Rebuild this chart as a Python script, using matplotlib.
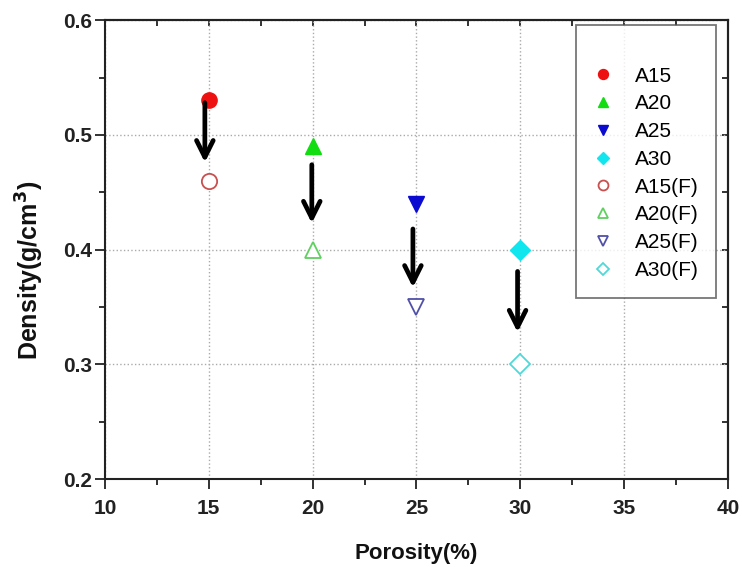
import matplotlib
matplotlib.use("Agg")
import matplotlib.pyplot as plt
from matplotlib.ticker import MultipleLocator, NullLocator

plt.rcParams['font.family'] = ['Liberation Sans', 'DejaVu Sans']

labels = ['A15', 'A20', 'A25', 'A30']
porosity = [15, 20, 25, 30]
density = [0.53, 0.49, 0.44, 0.40]
density_f = [0.46, 0.40, 0.35, 0.30]
markers = ['o', '^', 'v', 'D']
colors = ['#ee1111', '#11dd11', '#0a0ad0', '#11e5ee']
colors_f = ['#c85050', '#60d060', '#5050a8', '#50d8d8']
arrow_x = [14.81, 19.96, 24.83, 29.87]
arrow_top = [0.528, 0.474, 0.418, 0.381]
arrow_tip = [0.476, 0.423, 0.367, 0.328]

fig = plt.figure(figsize=(7.42, 5.67), dpi=100)
ax = fig.add_axes([0.1415, 0.155, 0.8395, 0.8095])

sizes = [11, 12, 12, 10]
for i in range(4):
    ax.plot(porosity[i], density[i], linestyle='none', marker=markers[i],
            color=colors[i], markersize=sizes[i], label=labels[i], zorder=3)
for i in range(4):
    ax.plot(porosity[i], density_f[i], linestyle='none', marker=markers[i],
            markerfacecolor='white', markeredgecolor=colors_f[i], markeredgewidth=1.3,
            markersize=sizes[i], label=labels[i] + '(F)', zorder=3)

for x, y0, y1 in zip(arrow_x, arrow_top, arrow_tip):
    ax.annotate('', xy=(x, y1), xytext=(x, y0),
                arrowprops=dict(arrowstyle='->', lw=3.4, color='black',
                                mutation_scale=30, shrinkA=0, shrinkB=0), zorder=4)

ax.set_xlim(10, 40)
ax.set_ylim(0.2, 0.6)
ax.xaxis.set_major_locator(MultipleLocator(5))
ax.xaxis.set_minor_locator(MultipleLocator(2.5))
ax.yaxis.set_major_locator(MultipleLocator(0.1))
ax.yaxis.set_minor_locator(MultipleLocator(0.05))
ax.grid(True, which='major', linestyle=':', color='#aaaaaa', linewidth=1.0)
ax.set_axisbelow(True)

ax.tick_params(which='both', direction='out', width=1.3, labelsize=15, colors='#222222')
ax.tick_params(which='major', length=7)
ax.tick_params(which='minor', length=4)
ax.tick_params(axis='x', which='major', pad=7)
ax.tick_params(axis='y', which='major', pad=2)
for lab in ax.get_xticklabels() + ax.get_yticklabels():
    lab.set_fontweight('bold')
    lab.set_color('#222222')
for s in ax.spines.values():
    s.set_linewidth(1.5)
    s.set_color('#222222')

# top / right: inward minor ticks only
secx = ax.secondary_xaxis('top')
secx.xaxis.set_major_locator(NullLocator())
secx.xaxis.set_minor_locator(MultipleLocator(2.5))
secx.tick_params(which='minor', direction='in', length=4, width=1.3, colors='#222222')
secx.spines['top'].set_linewidth(1.5)
secx.spines['top'].set_color('#222222')
secy = ax.secondary_yaxis('right')
secy.yaxis.set_major_locator(NullLocator())
secy.yaxis.set_minor_locator(MultipleLocator(0.05))
secy.tick_params(which='minor', direction='in', length=4, width=1.3, colors='#222222')
secy.spines['right'].set_linewidth(1.5)
secy.spines['right'].set_color('#222222')

ax.set_xlabel('Porosity(%)', fontsize=16, fontweight='bold', labelpad=18, color='#111111')
ax.set_ylabel('Density(g/cm$^{\\mathbf{3}}$)', fontsize=18, fontweight='bold', color='#111111')
ax.yaxis.set_label_coords(-0.095, 0.455)

leg = ax.legend(loc='upper right', fontsize=15, frameon=True, fancybox=False,
                edgecolor='#555555', markerscale=0.65, handletextpad=1.05,
                labelspacing=0.42, borderpad=0.85, handlelength=0.9,
                borderaxespad=0, title=' ', title_fontsize=12,
                bbox_to_anchor=(0.981, 0.989))
leg.get_frame().set_linewidth(1.3)

fig.savefig('out.png', dpi=100)
